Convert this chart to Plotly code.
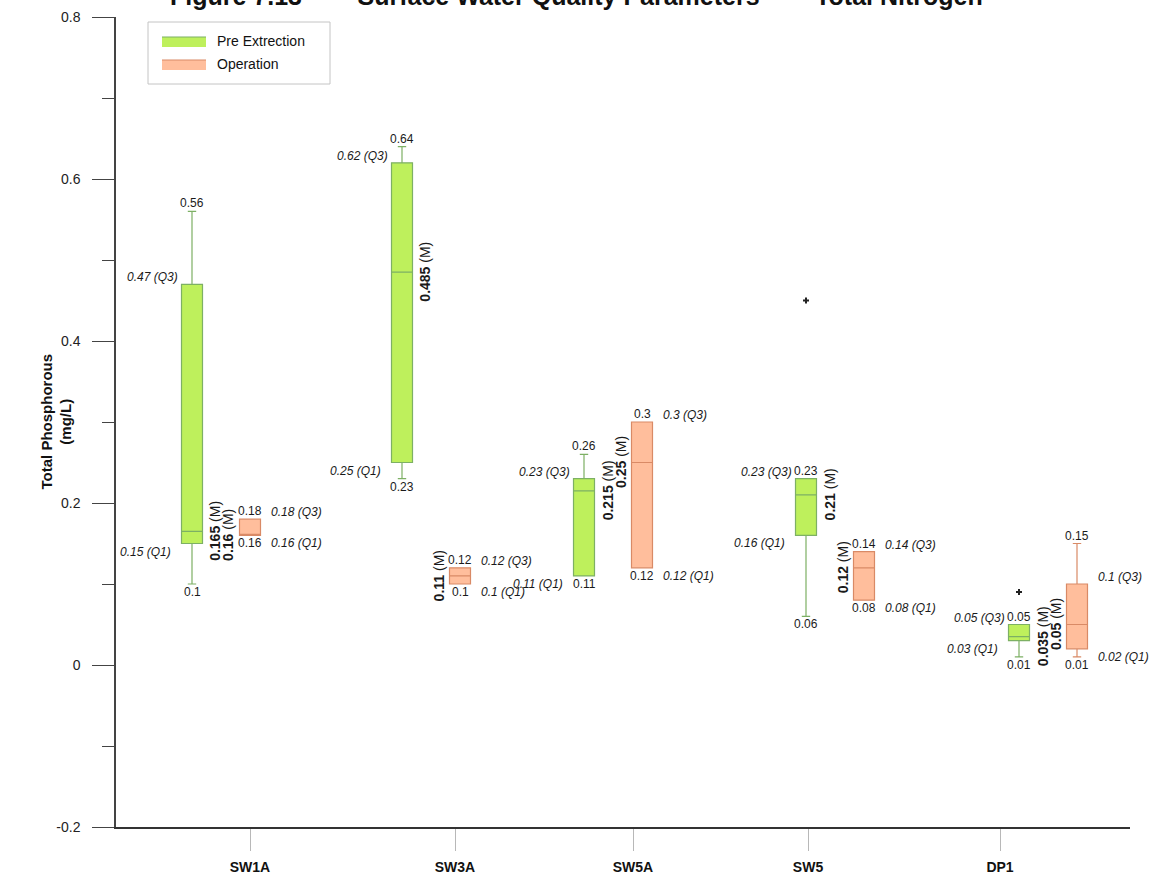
import plotly.graph_objects as go

# ---- data -------------------------------------------------------------
sites = ["SW1A", "SW3A", "SW5A", "SW5", "DP1"]

pre_min = [0.10, 0.23, 0.11, 0.06, 0.01]
pre_q1 = [0.15, 0.25, 0.11, 0.16, 0.03]
pre_med = [0.165, 0.485, 0.215, 0.21, 0.035]
pre_q3 = [0.47, 0.62, 0.23, 0.23, 0.05]
pre_max = [0.56, 0.64, 0.26, 0.23, 0.05]

op_min = [0.16, 0.10, 0.12, 0.08, 0.01]
op_q1 = [0.16, 0.10, 0.12, 0.08, 0.02]
op_med = [0.16, 0.11, 0.25, 0.12, 0.05]
op_q3 = [0.18, 0.12, 0.30, 0.14, 0.10]
op_max = [0.18, 0.12, 0.30, 0.14, 0.15]

outlier_sites = ["SW5", "DP1"]
outlier_vals = [0.45, 0.09]

# ---- layout constants -------------------------------------------------
SITE_CENTER = [0.525, 1.575, 2.485, 3.595, 4.66]
TICK_X = [0.67, 1.695, 2.585, 3.46, 4.42]
HALF_GAP = 0.145
BOX_W = 0.105
X_RANGE = [0, 5.07]

GREEN_FILL = "#BEF05C"
GREEN_LINE = "#7DB064"
ORANGE_FILL = "#FFBE9C"
ORANGE_LINE = "#D98A66"
TEXT = "#1a1a1a"
FONT = "Liberation Sans, Arial, sans-serif"

ML, MR, MT, MB = 116, 22, 17, 52
W, H = 1152, 879
PW, PH = W - ML - MR, H - MT - MB

pre_x = [c - HALF_GAP for c in SITE_CENTER]
op_x = [c + HALF_GAP for c in SITE_CENTER]


def px_x(p):
    return (p - ML) / PW


def px_y(p):
    return (H - MB - p) / PH


fig = go.Figure()

fig.add_trace(go.Box(
    x=pre_x, q1=pre_q1, median=pre_med, q3=pre_q3,
    lowerfence=pre_min, upperfence=pre_max,
    width=BOX_W, whiskerwidth=0.4, boxpoints=False,
    fillcolor=GREEN_FILL, line=dict(color=GREEN_LINE, width=1.2),
    name="Pre Extrection", showlegend=False, hoverinfo="skip",
))
fig.add_trace(go.Box(
    x=op_x, q1=op_q1, median=op_med, q3=op_q3,
    lowerfence=op_min, upperfence=op_max,
    width=BOX_W, whiskerwidth=0.4, boxpoints=False,
    fillcolor=ORANGE_FILL, line=dict(color=ORANGE_LINE, width=1.2),
    name="Operation", showlegend=False, hoverinfo="skip",
))

# outliers of the pre-extraction series
fig.add_trace(go.Scatter(
    x=[pre_x[sites.index(s)] for s in outlier_sites], y=outlier_vals,
    mode="markers", marker=dict(symbol="cross", size=5, color="#222"),
    showlegend=False, hoverinfo="skip",
))

ann = []


def label(x, y, text, **kw):
    d = dict(x=x, y=y, xref="x", yref="y", text=text, showarrow=False,
             font=dict(family=FONT, size=12, color=TEXT))
    if "font" in kw:
        d["font"].update(kw.pop("font"))
    d.update(kw)
    ann.append(d)


hw = BOX_W / 2
for i in range(len(sites)):
    # pre-extraction: max/min values, quartiles on the left, median on the right
    x = pre_x[i]
    label(x, pre_max[i], f"{pre_max[i]:g}", yanchor="bottom", yshift=-1)
    label(x, pre_min[i], f"{pre_min[i]:g}", yanchor="top", yshift=1)
    label(x - hw, pre_q3[i], f"<i>{pre_q3[i]:g} (Q3)</i>", xanchor="right",
          yanchor="bottom", xshift=-2, yshift=-2)
    label(x - hw, pre_q1[i], f"<i>{pre_q1[i]:g} (Q1)</i>", xanchor="right",
          yanchor="top", xshift=-9, yshift=1)
    label(x + hw, pre_med[i], f"<b>{pre_med[i]:g}</b> (M)", xanchor="left",
          yanchor="middle", xshift=3, textangle=-90, font=dict(size=14))

    # operation: max/min values, quartiles on the right, median on the left
    x = op_x[i]
    label(x, op_max[i], f"{op_max[i]:g}", yanchor="bottom", yshift=-1)
    label(x, op_min[i], f"{op_min[i]:g}", yanchor="top", yshift=1)
    label(x + hw, op_q3[i], f"<i>{op_q3[i]:g} (Q3)</i>", xanchor="left",
          yanchor="bottom", xshift=8, yshift=-2)
    label(x + hw, op_q1[i], f"<i>{op_q1[i]:g} (Q1)</i>", xanchor="left",
          yanchor="top", xshift=8, yshift=1)
    label(x - hw, op_med[i], f"<b>{op_med[i]:g}</b> (M)", xanchor="right",
          yanchor="middle", xshift=-1, textangle=-90, font=dict(size=14))

# title (sits at the very top edge of the page)
NB = "\u00a0"
ann.append(dict(
    x=px_x(576), y=px_y(-4), xref="paper", yref="paper", xanchor="center",
    yanchor="middle", showarrow=False,
    text=f"<b>Figure 7.13{NB * 8}Surface Water Quality Parameters"
         f"{NB * 3}–{NB * 3}Total Nitrogen</b>",
    font=dict(family=FONT, size=25, color="#111"),
))

# y axis title
ann.append(dict(
    x=px_x(35), y=px_y(422), xref="paper", yref="paper", showarrow=False,
    text="<b>Total Phosphorous<br>(mg/L)</b>", textangle=-90,
    font=dict(family=FONT, size=15, color="#111"),
))

# legend drawn by hand: framed box with two swatches
shapes = [
    dict(type="rect", xref="paper", yref="paper",
         x0=px_x(148), x1=px_x(330), y0=px_y(84), y1=px_y(22),
         line=dict(color="#c4c4c4", width=1), fillcolor="white"),
]
legend_items = [("Pre Extrection", GREEN_FILL, GREEN_LINE, 41),
                ("Operation", ORANGE_FILL, ORANGE_LINE, 64)]
for name, fill, edge, cy in legend_items:
    shapes.append(dict(type="rect", xref="paper", yref="paper",
                       x0=px_x(162), x1=px_x(206), y0=px_y(cy + 6), y1=px_y(cy - 4),
                       line=dict(width=0), fillcolor=fill))
    shapes.append(dict(type="line", xref="paper", yref="paper",
                       x0=px_x(162), x1=px_x(206), y0=px_y(cy - 4), y1=px_y(cy - 4),
                       line=dict(color=edge, width=1.2)))
    ann.append(dict(x=px_x(215), y=px_y(cy), xref="paper", yref="paper",
                    xanchor="left", yanchor="middle", showarrow=False, text=name,
                    font=dict(family=FONT, size=14, color="#111")))

fig.update_layout(
    width=W, height=H,
    margin=dict(l=ML, r=MR, t=MT, b=MB, pad=0),
    paper_bgcolor="white", plot_bgcolor="white",
    showlegend=False,
    annotations=ann, shapes=shapes,
    xaxis=dict(
        range=X_RANGE, tickvals=TICK_X, ticktext=[f"<b>{s}</b>" for s in sites],
        showgrid=False, zeroline=False, showline=True, linecolor="#333", linewidth=2,
        ticks="outside", ticklen=22, tickwidth=1, tickcolor="#b8b8b8",
        tickfont=dict(family=FONT, size=14, color="#111"), ticklabelstandoff=4,
        automargin=False,
    ),
    yaxis=dict(
        range=[-0.2, 0.8], tickvals=[-0.2, 0, 0.2, 0.4, 0.6, 0.8],
        ticktext=["-0.2", "0", "0.2", "0.4", "0.6", "0.8"],
        showgrid=False, zeroline=False, showline=True, linecolor="#444", linewidth=1.5,
        ticks="outside", ticklen=22, tickwidth=1, tickcolor="#444",
        tickfont=dict(family=FONT, size=14, color="#222"), ticklabelstandoff=9,
        minor=dict(tickvals=[-0.1, 0.1, 0.3, 0.5, 0.7], ticks="outside",
                   ticklen=12, tickwidth=1, tickcolor="#444", showgrid=False),
        automargin=False,
    ),
)

fig.write_html("out.html")
